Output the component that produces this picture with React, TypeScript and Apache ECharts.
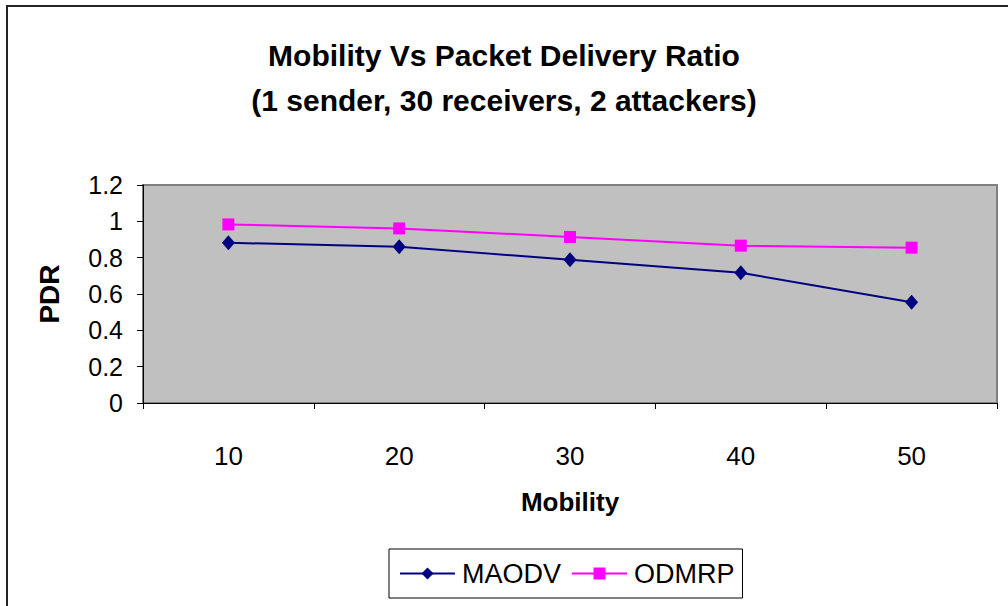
import React, { useEffect, useRef } from "react";
import * as echarts from "echarts";

const categories = ["10", "20", "30", "40", "50"];
const maodv = [0.882, 0.86, 0.789, 0.717, 0.554];
const odmrp = [0.983, 0.961, 0.914, 0.866, 0.855];
const titleLines = ["Mobility Vs Packet Delivery Ratio", "(1 sender, 30 receivers, 2 attackers)"];

const FONT = "'Liberation Sans', Arial, sans-serif";

export default function App() {
  const ref = useRef<HTMLDivElement>(null);
  useEffect(() => {
    if (!ref.current) return;
    const chart = echarts.init(ref.current, undefined, { renderer: "svg" });
    chart.setOption({
      animation: false,
      backgroundColor: "#ffffff",
      textStyle: { fontFamily: FONT, color: "#000" },
      title: {
        text: titleLines.join("\n"),
        left: "center",
        top: 28,
        textStyle: { fontFamily: FONT, fontSize: 30, fontWeight: "bold", color: "#000", lineHeight: 45 },
      },
      graphic: [
        {
          type: "rect",
          shape: { x: 7, y: 6, width: 1010, height: 612 },
          style: { fill: "none", stroke: "#222", lineWidth: 2 },
          silent: true,
        },
      ],
      grid: {
        left: 143,
        right: 11,
        top: 185,
        bottom: 203,
        show: true,
        backgroundColor: "#C0C0C0",
        borderColor: "#808080",
        borderWidth: 2,
        containLabel: false,
      },
      legend: {
        left: 389,
        top: 549,
        data: ["MAODV", "ODMRP"],
        itemWidth: 55,
        itemHeight: 15,
        itemGap: 10,
        padding: [11, 8, 11, 10],
        borderColor: "#000",
        borderWidth: 1,
        backgroundColor: "#fff",
        borderRadius: 0,
        textStyle: { fontFamily: FONT, fontSize: 27, color: "#000", padding: [0, 0, 0, 2] },
      },
      xAxis: {
        type: "category",
        data: categories,
        boundaryGap: true,
        name: "Mobility",
        nameLocation: "middle",
        nameGap: 86,
        nameTextStyle: { fontFamily: FONT, fontSize: 26, fontWeight: "bold", color: "#000" },
        axisLine: { show: true, lineStyle: { color: "#000", width: 1 } },
        axisTick: { show: true, length: 6, inside: false, lineStyle: { color: "#000" } },
        axisLabel: { fontFamily: FONT, fontSize: 26, color: "#000", margin: 40 },
        splitLine: { show: false },
      },
      yAxis: {
        type: "value",
        min: 0,
        max: 1.2,
        interval: 0.2,
        name: "PDR",
        nameLocation: "middle",
        nameRotate: 90,
        nameGap: 80,
        nameTextStyle: { fontFamily: FONT, fontSize: 28, fontWeight: "bold", color: "#000" },
        axisLine: { show: true, lineStyle: { color: "#000", width: 1 } },
        axisTick: { show: true, length: 6, lineStyle: { color: "#000" } },
        axisLabel: { fontFamily: FONT, fontSize: 25, color: "#000", margin: 20 },
        splitLine: { show: false },
      },
      series: [
        {
          name: "MAODV",
          type: "line",
          data: maodv,
          symbol: "diamond",
          symbolSize: [13, 15],
          color: "#000080",
          lineStyle: { color: "#000080", width: 2 },
          itemStyle: { color: "#000080" },
        },
        {
          name: "ODMRP",
          type: "line",
          data: odmrp,
          symbol: "rect",
          symbolSize: 12,
          color: "#FF00FF",
          lineStyle: { color: "#FF00FF", width: 2 },
          itemStyle: { color: "#FF00FF" },
        },
      ],
    });
    return () => chart.dispose();
  }, []);
  return (
    <div
      ref={ref}
      style={{ position: "fixed", left: 0, top: 0, width: 1008, height: 606 }}
    />
  );
}
